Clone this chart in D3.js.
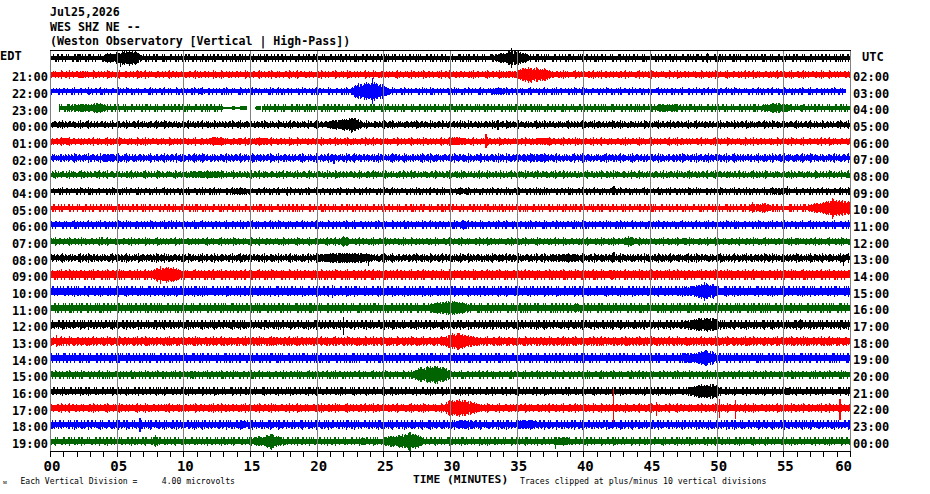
<!DOCTYPE html>
<html>
<head>
<meta charset="utf-8">
<script src="https://cdn.jsdelivr.net/npm/d3@7"></script>
<style>
  body { margin: 0; background: #fff; }
  svg { display: block; }
  text { font-family: "DejaVu Sans Mono", monospace; fill: #000; }
</style>
</head>
<body>
<div id="chart"></div>
<script>
// header / labels
const headerLines = ["Jul25,2026", "WES SHZ NE --", "(Weston Observatory [Vertical | High-Pass])"];
const edtLabels = ["EDT", "21:00", "22:00", "23:00", "00:00", "01:00", "02:00", "03:00", "04:00", "05:00", "06:00", "07:00",
  "08:00", "09:00", "10:00", "11:00", "12:00", "13:00", "14:00", "15:00", "16:00", "17:00", "18:00", "19:00"];
const utcLabels = ["UTC", "02:00", "03:00", "04:00", "05:00", "06:00", "07:00", "08:00", "09:00", "10:00", "11:00", "12:00",
  "13:00", "14:00", "15:00", "16:00", "17:00", "18:00", "19:00", "20:00", "21:00", "22:00", "23:00", "00:00"];
const minuteTicks = d3.range(0, 61);
const footerScale = "Each Vertical Division =     4.00 microvolts";
const footerClip = "Traces clipped at plus/minus 10 vertical divisions";
const axisTitle = "TIME (MINUTES)";

// background noise level of each hourly line (half amplitude, microvolts)
const baseLevel = [5.5, 5.5, 4.8, 4.8, 5.3, 5.5, 6.2, 5.3, 4.6, 5.3, 6.2, 5.5,
  6.2, 8.6, 8.6, 7.4, 7.0, 7.7, 7.7, 6.2, 6.2, 7.0, 7.0, 5.8];

// envelope vertices of the wave trains [minute, half amplitude µV], one list per line
const bursts = [
  [[4.0,5.5],[4.2,11],[4.5,13],[4.8,9],[5.0,14],[5.3,12],[5.5,18],[5.8,15],[6.0,19],[6.3,14],[6.5,17],[6.7,10],[6.9,5.5],
   [33.2,5.5],[33.5,9],[33.9,13],[34.2,11],[34.5,19],[34.8,16],[35.1,18],[35.4,12],[35.7,13],[36.0,5.5]],
  [[2.0,5.5],[2.2,8],[2.8,8],[3.0,5.5],[6.4,5.5],[6.6,10],[6.8,5.5],
   [33.5,5.5],[34,8],[35,8.5],[35.2,13],[35.6,16],[35.9,19],[36.2,15],[36.5,18],[36.8,14],[37.1,15],[37.4,11],[37.8,5.5]],
  [[2.7,4.8],[2.9,8],[3.1,4.8],[10.9,4.8],[11.2,8],[11.7,4.8],
   [22.5,4.8],[22.8,12],[23.1,20],[23.4,16],[23.7,22],[24.0,18],[24.3,23],[24.6,17],[24.9,19],[25.2,12],[25.6,4.8],
   [33.1,4.8],[33.4,9],[34.0,8],[34.2,4.8]],
  [[0.68,3],[0.9,3],[1.1,4.8],[1.5,7],[2.0,10],[2.4,8],[2.8,10],[3.1,6],[3.3,12],[3.6,13],[3.9,11],[4.2,7],[4.4,4.8],
   [45.4,4.8],[45.6,9],[46.3,8],[47.0,9],[47.3,4.8],
   [53.3,4.8],[53.7,9],[54.2,11],[54.5,13],[54.9,10],[55.3,9],[55.6,4.8],[56.2,4.8],[56.4,9],[56.6,4.8]],
  [[20.7,5.3],[21.0,9],[21.4,13],[21.7,10],[22.0,15],[22.3,12],[22.6,18],[22.9,15],[23.2,12],[23.5,5.3]],
  [[0.5,5.5],[0.9,9],[1.5,8],[1.8,5.5],[11.8,5.5],[12.2,10],[12.8,10],[13.3,5.5],[14.0,5.5],[14.3,9],[14.5,5.5],
   [15.1,5.5],[15.5,9],[16.2,9],[16.5,5.5],[29.8,5.5],[30.0,10],[31.0,9],[31.5,5.5],[36.2,5.5],[36.6,9],[37.4,9],[37.8,5.5]],
  [[3.7,6.2],[4.2,9],[4.8,9],[5.0,6.2],[25.4,6.2],[25.7,9],[26.0,6.2],[35.7,6.2],[36.2,9],[37.2,9],[37.5,6.2]],
  [[10.4,5.3],[10.8,8],[11.8,9],[12.6,8],[13.0,5.3]],
  [[13.4,4.6],[13.8,7.5],[14.6,8],[15.0,4.6],[30.4,4.6],[30.8,8],[31.3,4.6],[53.9,4.6],[54.4,8],[55.0,8],[55.3,4.6]],
  [[52.4,5.3],[52.8,9],[53.2,8],[53.5,12],[53.9,9],[54.3,5.3],
   [56.8,5.3],[57.2,10],[57.6,13],[57.9,11],[58.2,18],[58.5,15],[58.8,22],[59.1,17],[59.4,20],[59.7,16],[60,19]],
  [[30.7,6.2],[31.0,11],[31.3,6.2]],
  [[21.6,5.5],[21.9,10],[22.3,11],[22.5,5.5],[42.9,5.5],[43.2,10],[43.6,11],[43.9,5.5],[47.3,5.5],[47.6,9],[47.9,5.5],
   [55.8,5.5],[56.0,10],[56.3,5.5]],
  [[19.9,6.2],[20.3,10],[21.0,11],[21.5,12],[22.0,11],[22.6,12],[23.3,11],[24.0,10],[24.3,6.2],[37.4,6.2],[37.8,9],[39.5,9],[39.8,6.2]],
  [[7.5,8.6],[7.8,13],[8.1,17],[8.4,14],[8.7,20],[9.0,16],[9.3,19],[9.6,14],[9.8,8.6],[41.9,8.6],[42.2,12],[42.5,8.6]],
  [[47.2,8.6],[47.6,11],[48.2,12],[48.6,15],[48.9,18],[49.2,20],[49.5,16],[49.8,18],[50.1,8.6]],
  [[28.4,7.4],[28.8,12],[29.1,15],[29.4,13],[29.7,17],[30.0,15],[30.3,18],[30.6,14],[30.9,15],[31.2,10],[31.6,7.4],
   [39.2,7.4],[39.5,11],[39.8,7.4]],
  [[47.4,7],[47.8,11],[48.3,13],[48.7,16],[49.0,14],[49.3,17],[49.6,15],[49.9,16],[50.2,7],[56.1,7],[56.3,13],[56.5,7]],
  [[16.6,7.7],[16.9,11],[17.2,7.7],[29.3,7.7],[29.6,12],[29.9,15],[30.2,19],[30.5,16],[30.8,20],[31.1,15],[31.5,14],[31.9,10],[32.3,7.7]],
  [[47.2,7.7],[47.6,11],[48.1,13],[48.5,12],[48.8,16],[49.1,18],[49.4,15],[49.7,17],[50.0,7.7]],
  [[10.4,6.2],[10.6,11],[10.8,6.2],[27.2,6.2],[27.5,14],[27.8,18],[28.1,16],[28.4,22],[28.7,18],[29.0,23],[29.3,17],
   [29.6,19],[29.9,12],[30.2,6.2]],
  [[47.7,6.2],[48.1,11],[48.5,14],[48.9,17],[49.3,15],[49.6,18],[50.0,15],[50.3,6.2],[55.2,6.2],[55.4,11],[55.6,6.2]],
  [[8.4,7],[8.8,10],[9.2,7],[29.5,7],[29.8,16],[30.1,20],[30.4,17],[30.7,21],[31.0,18],[31.3,19],[31.6,15],[31.9,13],[32.2,10],[32.5,7]],
  [[14.2,7],[14.5,10],[14.8,7],[30.4,7],[30.8,11],[31.6,11],[32.0,7],[34.9,7],[35.4,11],[36.2,11],[36.6,7]],
  [[7.7,5.8],[7.9,13],[8.1,5.8],[14.9,5.8],[15.3,9],[15.7,12],[16.0,10],[16.3,15],[16.6,18],[16.9,13],[17.2,12],[17.5,5.8],
   [23.3,5.8],[23.5,10],[23.8,5.8],[24.9,5.8],[25.3,11],[25.7,14],[26.0,12],[26.3,17],[26.6,16],[26.9,21],[27.2,17],
   [27.5,18],[27.8,12],[28.1,5.8],[37.7,5.8],[38.0,10],[38.8,10],[39.1,5.8]]
];

// single sharp excursions [line, minute, up µV, down µV]
const spikes = [
  [0,2.1,9,9],[0,5.3,10,22],[0,34.6,24,24],[0,49.3,12,13],[0,51.5,9,9],
  [1,36.1,17,20],
  [2,24.2,31,31],
  [4,22.6,17,19],[4,33.6,12,12],
  [5,32.7,17,17],
  [6,21.3,6,14],[6,47.3,10,10],
  [7,33.8,10,10],[7,59.9,10,8],
  [8,17.8,11,11],[8,42.3,12,10],[8,55.3,12,10],
  [9,52.7,14,12],[9,58.7,24,27],
  [10,9.1,11,11],[10,31.0,12,12],
  [11,3.9,10,10],[11,22.0,12,14],[11,43.4,12,14],
  [12,23.9,8,19],[12,42.3,14,10],[12,59.5,10,19],
  [13,8.3,20,22],
  [14,21.2,14,16],[14,49.1,22,24],
  [16,13.1,12,6],[16,22.0,19,24],[16,27.5,11,11],[16,33.5,11,11],
  [17,0.5,14,14],[17,30.6,20,22],
  [18,1.0,12,12],[18,49.2,19,19],
  [21,42.25,46,34],[21,45.5,14,19],[21,50.2,22,24],[21,51.4,19,26],[21,59.25,22,29],
  [22,6.75,17,17],
  [23,7.9,14,14],[23,16.6,18,20],[23,27.0,22,24],[23,37.9,10,19]
];

// data gaps / dropouts [line, from minute, to minute]
const gaps = [[2,59.7,60],[3,0,0.68],[3,12.95,15.9]];
// short pieces of trace inside the dropout [line, from, to, half amplitude µV]
const dropoutPieces = [[3,12.95,13.6,0.6],[3,13.6,13.9,4.2],[3,13.9,14.2,0.6],[3,14.2,14.8,4.5],[3,15.4,15.85,4.5]];

const traceColors = ["#000000", "#ff0000", "#0000ff", "#006400"];

const W = 930, H = 494;
const svg = d3.select("#chart").append("svg")
  .attr("width", W).attr("height", H)
  .attr("viewBox", [0, 0, W, H])
  .attr("shape-rendering", "crispEdges");

const x = d3.scaleLinear([0, 60], [50, 850]);
const rowY = d3.scaleLinear([0, 23], [58, 441.3]);
const rowStep = rowY(1) - rowY(0);
// 10 divisions of 4 µV fill one line spacing
const amp = d3.scaleLinear([0, 40], [0, rowStep]);

// comb fills so the wave trains read as dense wiggles, not blobs
const defs = svg.append("defs");
const combs = {
  sparse: [0, 2, 3, 6, 8, 9, 12, 14, 16, 17, 19],
  dense: [0, 1, 2, 4, 5, 6, 8, 9, 10, 11, 13, 14, 15, 17, 18, 20, 21]
};
traceColors.forEach((c, k) => {
  Object.entries(combs).forEach(([name, cols]) => {
    const p = defs.append("pattern")
      .attr("id", `comb-${name}-${k}`)
      .attr("patternUnits", "userSpaceOnUse")
      .attr("width", 22).attr("height", H);
    p.selectAll("rect").data(cols).join("rect")
      .attr("x", d => d).attr("y", 0)
      .attr("width", 1).attr("height", H)
      .attr("fill", c);
  });
});

// header
svg.append("g").selectAll("text").data(headerLines).join("text")
  .attr("x", 50).attr("y", (d, i) => 16 + i * 14.7)
  .style("font-size", "11.6px").style("font-weight", "bold")
  .text(d => d);

// traces
const traces = svg.append("g");
bursts.forEach((b, i) => {
  const cy = rowY(i);
  const k = i % 4;
  const col = traceColors[k];
  const base = baseLevel[i];
  const pts = b.slice();
  if (!pts.length || pts[0][0] > 0) pts.unshift([0, base]);
  if (pts[pts.length - 1][0] < 60) pts.push([60, base]);

  const band = (f, floor) => d3.area()
    .x(d => x(d[0]))
    .y0(d => cy + amp(Math.max(d[1] * f, floor)))
    .y1(d => cy - amp(Math.max(d[1] * f, floor)));

  traces.append("path").attr("d", band(1, 0)(pts)).attr("fill", `url(#comb-sparse-${k})`);
  traces.append("path").attr("d", band(0.8, 0)(pts)).attr("fill", `url(#comb-dense-${k})`);
  traces.append("path").attr("d", band(0.6, base * 0.96)(pts)).attr("fill", col);

  // fuzzy edge of the noise band
  const h = amp(base) * 0.96;
  [[-0.8, 2 * h + 1.6, "1 2 1 3 2 2 1 4 1 1 1 5 2 3 1 2", 13],
   [0.8, 2 * h + 1.6, "1 4 2 1 1 3 1 2 1 6 2 2 1 3", 7],
   [0, 2 * h + 4.2, "1 11 1 17 1 7 1 23 1 13", 19]].forEach(([off, w, dash, shift]) => {
    traces.append("line")
      .attr("x1", x(0)).attr("x2", x(60))
      .attr("y1", cy + off).attr("y2", cy + off)
      .attr("stroke", col).attr("stroke-width", w)
      .attr("stroke-dasharray", dash)
      .attr("stroke-dashoffset", i * shift);
  });
});

traces.selectAll("line.spike").data(spikes).join("line")
  .attr("class", "spike")
  .attr("x1", d => x(d[1])).attr("x2", d => x(d[1]))
  .attr("y1", d => rowY(d[0]) - amp(d[2]))
  .attr("y2", d => rowY(d[0]) + amp(d[3]))
  .attr("stroke", d => traceColors[d[0] % 4])
  .attr("stroke-width", 1.5);

// blank out missing data, then put back the short pieces that survive
svg.append("g").selectAll("rect").data(gaps).join("rect")
  .attr("x", d => x(d[1]))
  .attr("width", d => x(d[2]) - x(d[1]))
  .attr("y", d => rowY(d[0]) - rowStep * 0.4)
  .attr("height", rowStep * 0.8)
  .attr("fill", "#fff");
svg.append("g").selectAll("rect").data(dropoutPieces).join("rect")
  .attr("x", d => x(d[1]))
  .attr("width", d => x(d[2]) - x(d[1]))
  .attr("y", d => rowY(d[0]) - Math.max(amp(d[3]), 0.6))
  .attr("height", d => Math.max(2 * amp(d[3]), 1.2))
  .attr("rx", d => d[3] > 2 ? 1.5 : 0)
  .attr("fill", d => traceColors[d[0] % 4]);

// 5 minute grid and frame
svg.append("g").selectAll("line").data(d3.range(0, 61, 5)).join("line")
  .attr("x1", d => x(d) + 0.5).attr("x2", d => x(d) + 0.5)
  .attr("y1", 50).attr("y2", 451)
  .attr("stroke", "#808080").attr("stroke-width", 1.2);
svg.append("line")
  .attr("x1", x(0)).attr("x2", x(60) + 1)
  .attr("y1", 50.5).attr("y2", 50.5)
  .attr("stroke", "#000").attr("stroke-width", 1.2);

// time axis
const axis = svg.append("g")
  .attr("transform", "translate(0,451)")
  .call(d3.axisBottom(x)
    .tickValues(minuteTicks)
    .tickSize(6).tickSizeOuter(0).tickPadding(4)
    .tickFormat(d => d % 5 === 0 ? d3.format("02d")(d) : ""));
axis.select(".domain").attr("stroke", "#000").attr("stroke-width", 1.4);
axis.selectAll(".tick line").attr("stroke", "#000").attr("stroke-width", 1.2);
axis.selectAll("text")
  .attr("font-family", null).attr("font-size", null)
  .style("font-size", "14px").style("font-weight", "bold")
  .attr("dx", 1.5);
axis.selectAll(".tick").filter(d => d === 60).select("text")
  .attr("text-anchor", "end").attr("dx", 1.5);

// hour labels
svg.append("g").selectAll("text").data(edtLabels).join("text")
  .attr("x", (d, i) => i === 0 ? 0 : 48)
  .attr("y", (d, i) => i === 0 ? 60 : rowY(i) + 6.6)
  .attr("text-anchor", (d, i) => i === 0 ? "start" : "end")
  .style("font-size", "12px").style("font-weight", "bold")
  .text(d => d);
svg.append("g").selectAll("text").data(utcLabels).join("text")
  .attr("x", (d, i) => i === 0 ? 862 : 853)
  .attr("y", (d, i) => i === 0 ? 60.5 : rowY(i) + 6.4)
  .style("font-size", "12px").style("font-weight", "bold")
  .text(d => d);

// footer
svg.append("text").attr("x", 3).attr("y", 484)
  .style("font-size", "6px").text("ᴍ");
svg.append("text").attr("x", 20.5).attr("y", 483.5)
  .style("font-size", "8.1px").style("white-space", "pre").attr("xml:space", "preserve")
  .text(footerScale);
svg.append("text").attr("x", 413).attr("y", 483)
  .style("font-size", "11.3px").style("font-weight", "bold")
  .text(axisTitle);
svg.append("text").attr("x", 520).attr("y", 483.5)
  .style("font-size", "8.2px")
  .text(footerClip);
</script>
</body>
</html>
